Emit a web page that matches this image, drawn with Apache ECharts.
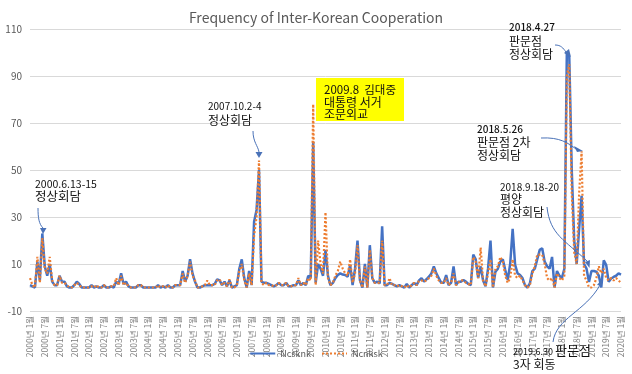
<!DOCTYPE html>
<html><head><meta charset="utf-8">
<script src="https://cdn.jsdelivr.net/npm/echarts@6/dist/echarts.min.js"></script>
<style>html,body{margin:0;padding:0;background:#fff}#c{width:632px;height:374px}</style>
</head><body><div id="c"></div>
<script>
const startYear = 2000;
const endYear = 2020;
const monthNames = ['1월','2월','3월','4월','5월','6월','7월','8월','9월','10월','11월','12월'];
const yTicks = [-10, 10, 30, 50, 70, 90, 110];

const ncsknk = [
  1, 0.5, 0, 11, 3, 23, 9, 5, 10, 2.5, 1, 1,            // 2000
  5, 2.5, 2.5, 0.5, 0, 0, 1, 2.5, 1.5, 0, 0, 0,         // 2001
  0, 1, 0, 0.5, 0, 0, 1, 0, 0, 0.5, 0, 2.5,             // 2002
  1.5, 6, 1.5, 2.5, 0.5, 0, 0, 0, 1, 1, 0, 0,           // 2003
  0, 0, 0, 0, 1, 0, 0.5, 0, 1, 0, 0, 1,                 // 2004
  1, 1, 7, 2.5, 5, 12, 6, 2.5, 0, 0, 0.5, 1,            // 2005
  1, 1, 1, 1.5, 3.5, 3, 1, 2.5, 0.5, 3, 0, 0.5,         // 2006
  1, 8, 12, 4, 0, 7, 1, 28, 33, 50, 2.5, 2,             // 2007
  2, 1.5, 1, 0.5, 1, 2, 1, 1, 2, 0.5, 0.5, 1,           // 2008
  1, 3, 1, 2, 1, 5, 4, 62, 2, 10, 8, 5,                 // 2009
  16, 5, 1, 2, 4, 5.3, 6, 5.5, 5.3, 4.6, 9.6, 1,        // 2010
  8, 20, 3, 0, 10, 0, 18, 4, 2, 2.5, 1.7, 26,           // 2011
  1, 1, 2, 1.5, 1, 0.5, 1, 0.5, 0, 1.5, 0, 1,           // 2012
  2, 1, 3, 4, 2.5, 3.5, 4.6, 6, 9, 6, 4, 2,             // 2013
  2, 5.3, 1, 2, 9, 1, 2.5, 2.5, 3.2, 2.5, 1.5, 1,       // 2014
  14, 12, 4, 9, 3, 0.5, 8, 20, 0, 6.7, 8, 11,           // 2015
  12, 7.4, 3.2, 10, 25, 9.6, 6, 5.3, 4, 1, 0, 1.8,      // 2016
  7, 8, 12, 16, 16.7, 11, 9, 8, 13, 0, 7, 5,            // 2017
  4, 8, 100, 98, 50, 20, 10, 25, 39, 10, 8, 2.4,        // 2018
  7, 7, 6.7, 5, 0, 11.6, 9.5, 2.4, 3.8, 4.5, 5, 6,      // 2019
  5.5                                                   // 2020.1
];

const ncnksk = [
  4, 1, 0, 13, 2, 21, 8, 6, 13, 3, 1, 1,                // 2000
  5, 2, 2, 1, 0, 0, 1, 2, 1, 0, 0, 0,                   // 2001
  0, 0.5, 0, 1, 0, 0, 1, 0, 0, 0.5, 0.5, 4,             // 2002
  1, 5, 1, 2, 0.5, 0, 0, 0, 1, 1, 0, 0,                 // 2003
  0, 0, 0, 0, 1, 0, 0.5, 0, 1, 0, 0, 1,                 // 2004
  1, 1, 6, 2, 5, 11, 5, 3, 0, 0, 0.5, 1,                // 2005
  3, 1, 1, 1, 3, 3.5, 1, 2, 0.5, 3.5, 0, 0,             // 2006
  1, 7, 10, 3, 0, 6, 1, 22, 30, 54, 2, 1,               // 2007
  2, 1, 1, 0.5, 1, 2, 1, 1, 2, 0.5, 0.5, 1,             // 2008
  1, 4, 1, 2, 1, 4, 3, 78, 1, 20, 10, 6,                // 2009
  32, 4, 1, 2, 5, 7, 11, 8, 6, 5, 12, 2,                // 2010
  6, 18, 3, 0, 9, 0, 16, 4, 2, 2, 2, 20,                // 2011
  1, 1, 4, 1, 1, 0.5, 1, 0.5, 0, 1, 0, 1,               // 2012
  2, 1, 3, 3, 2.5, 3, 4, 5, 8, 5, 3, 2,                 // 2013
  2, 4, 1, 2, 6, 1, 2, 3, 3, 2, 1.5, 1,                 // 2014
  13, 11, 4, 17, 3, 0.5, 6, 12, 0, 8, 9, 13,            // 2015
  11, 5, 2, 4, 12, 5, 4, 5, 3, 1, 0, 1,                 // 2016
  6, 9, 14, 14, 14, 10, 4, 3, 4, 0, 6, 4,               // 2017
  3, 5, 90, 95, 40, 15, 10, 40, 58, 5, 3, 0,            // 2018
  0, 1, 4, 9, 6, 8, 4, 3, 4, 3, 4, 3,                   // 2019
  2                                                     // 2020.1
];

const categories = [];
for (let y = startYear; y <= endYear; y++) {
  for (let m = 0; m < 12; m++) {
    if (y === endYear && m > 0) break;
    categories.push(y + '년 ' + monthNames[m]);
  }
}

const FONT = "'Noto Sans CJK KR', 'Noto Sans', sans-serif";
const ARROW = '#4a72b8';

function txt(x, y, s, size, weight) {
  return {
    type: 'text', x: x, y: y, z: 100,
    style: { text: s, fontSize: size, fontFamily: FONT, fill: '#111', verticalAlign: 'middle', align: 'left', fontWeight: weight || 'normal' }
  };
}
function curve(x1, y1, c1x, c1y, c2x, c2y, x2, y2) {
  return { type: 'bezierCurve', z: 100, shape: { x1: x1, y1: y1, cpx1: c1x, cpy1: c1y, cpx2: c2x, cpy2: c2y, x2: x2, y2: y2 },
    style: { stroke: ARROW, lineWidth: 1, fill: null } };
}
function head(pts) {
  return { type: 'polygon', z: 100, shape: { points: pts }, style: { fill: ARROW } };
}

const chart = echarts.init(document.getElementById('c'));
chart.setOption({
  animation: false,
  backgroundColor: '#fff',
  title: {
    text: 'Frequency of Inter-Korean Cooperation',
    left: 'center', top: 6,
    textStyle: { fontSize: 14, fontWeight: 'normal', color: '#595959', fontFamily: FONT }
  },
  legend: {
    bottom: 11, left: 'center', itemGap: 10, itemWidth: 25, itemHeight: 8,
    itemStyle: { opacity: 0 },
    textStyle: { fontSize: 9, color: '#595959', fontFamily: FONT },
    data: ['Ncsknk', 'Ncnksk']
  },
  grid: { left: 30, right: 11, top: 29, bottom: 63, containLabel: false },
  xAxis: {
    type: 'category', data: categories, boundaryGap: false,
    axisLine: { onZero: true, lineStyle: { color: '#d9d9d9' } },
    axisTick: { show: false },
    axisLabel: { interval: 5, rotate: 90, fontSize: 8.5, color: '#7f7f7f', fontFamily: FONT, margin: 5 }
  },
  yAxis: {
    type: 'value', min: yTicks[0], max: yTicks[yTicks.length - 1], interval: 20,
    axisLine: { show: false }, axisTick: { show: false },
    axisLabel: { fontSize: 10, color: '#595959', fontFamily: FONT, margin: 8 },
    splitLine: { lineStyle: { color: '#d9d9d9' } }
  },
  series: [
    { name: 'Ncsknk', type: 'line', data: ncsknk, symbol: 'none', z: 2,
      lineStyle: { color: '#4472C4', width: 2.5 }, itemStyle: { color: '#4472C4' } },
    { name: 'Ncnksk', type: 'line', data: ncnksk, symbol: 'none', z: 3,
      lineStyle: { color: '#ED7D31', width: 2.2, type: [2, 2] }, itemStyle: { color: '#ED7D31' } }
  ],
  graphic: [
    // 2000 summit
    txt(35, 184, '2000.6.13-15', 10.5),
    txt(35, 196, '정상회담', 12.5),
    curve(38, 208, 38, 218, 39, 224, 43, 228),
    head([[40, 228], [46.5, 228], [43, 234]]),
    // 2007 summit
    txt(208, 106, '2007.10.2-4', 10),
    txt(208, 120, '정상회담', 12),
    curve(253, 131, 253, 142, 258, 146, 259, 152),
    head([[255.5, 152], [262.5, 152], [259, 158]]),
    // yellow box
    { type: 'rect', z: 99, shape: { x: 316, y: 78, width: 88, height: 43 }, style: { fill: '#ffff00' } },
    txt(324, 90, '2009.8  김대중', 11.5),
    txt(324, 102, '대통령 서거', 12),
    txt(324, 114, '조문외교', 12),
    // 2018.4.27
    txt(509, 27, '2018.4.27', 10, 500),
    txt(509, 41, '판문점', 12),
    txt(509, 54, '정상회담', 12),
    curve(555, 45, 561, 45, 563, 48, 566, 52),
    head([[564, 53], [569, 49], [571, 57]]),
    // 2018.5.26
    txt(477, 129, '2018.5.26', 10, 500),
    txt(477, 142, '판문점 2차', 12),
    txt(477, 155, '정상회담', 12),
    curve(541, 138, 560, 137, 568, 143, 576, 149),
    head([[574, 146], [577, 152], [583, 151]]),
    // 2018.9.18-20
    txt(500, 187, '2018.9.18-20', 10),
    txt(500, 199, '평양', 12),
    txt(500, 212, '정상회담', 12),
    curve(547, 207, 550, 235, 565, 240, 587, 261),
    head([[585, 262], [590, 260], [589.5, 268]]),
    // 2019.6.30
    txt(513, 352, '2019.6.30', 9),
    txt(555, 350, '판문점', 13),
    txt(513, 364, '3자 회동', 12),
    curve(553, 342, 556, 318, 585, 312, 600, 285),
    head([[597, 285], [602, 286], [602, 279]])
  ]
});
</script>
</body></html>
